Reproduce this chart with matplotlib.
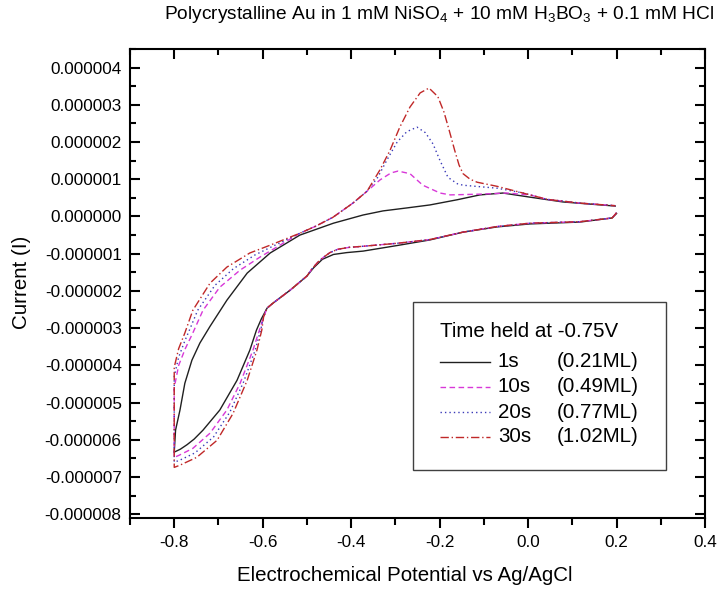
import numpy as np
import matplotlib.pyplot as plt
from matplotlib.ticker import MultipleLocator, FuncFormatter
from matplotlib.patches import Rectangle
from matplotlib.lines import Line2D

plt.rcParams['font.family'] = ['Liberation Sans', 'DejaVu Sans']
plt.rcParams['mathtext.fontset'] = 'custom'
plt.rcParams['mathtext.rm'] = 'Liberation Sans'

# potentials in V, currents in microamps (converted to A below)
# 1s hold
x_1s_cath = [0.200, 0.190, 0.117, 0.004, -0.070, -0.147, -0.222, -0.296, -0.373, -0.410, -0.440, -0.465,
             -0.485, -0.500, -0.538, -0.577, -0.590, -0.603, -0.614, -0.629, -0.658, -0.697, -0.735,
             -0.755, -0.771, -0.786, -0.800]
i_1s_cath = [0.08, -0.04, -0.15, -0.20, -0.28, -0.42, -0.63, -0.78, -0.93, -0.97, -1.02, -1.15,
             -1.38, -1.60, -1.98, -2.33, -2.46, -2.75, -3.05, -3.59, -4.40, -5.20, -5.74,
             -5.98, -6.13, -6.25, -6.33]
x_1s_anod = [-0.800, -0.797, -0.787, -0.776, -0.760, -0.742, -0.719, -0.681, -0.635, -0.583, -0.516, -0.440,
             -0.373, -0.328, -0.274, -0.222, -0.160, -0.109, -0.057, 0.004, 0.079, 0.197]
i_1s_anod = [-6.33, -5.74, -5.20, -4.48, -3.86, -3.40, -2.95, -2.25, -1.52, -0.98, -0.50, -0.18,
             0.04, 0.15, 0.23, 0.31, 0.45, 0.58, 0.63, 0.52, 0.39, 0.28]

# segments shared by the 10s / 20s / 30s sweeps
x_cath_common = [0.200, 0.190, 0.117, 0.004, -0.070, -0.147, -0.222, -0.296, -0.373, -0.405, -0.430,
                 -0.448, -0.463, -0.477, -0.490, -0.500, -0.538, -0.577, -0.590]
i_cath_common = [0.10, -0.04, -0.14, -0.18, -0.27, -0.42, -0.62, -0.72, -0.80, -0.83, -0.88,
                 -0.97, -1.10, -1.25, -1.43, -1.60, -1.98, -2.33, -2.46]
x_anod_mid = [-0.480, -0.441, -0.396, -0.364]
i_anod_mid = [-0.26, -0.02, 0.36, 0.68]
x_anod_tail = [0.043, 0.117, 0.197]
i_anod_tail = [0.46, 0.36, 0.29]

# 10s hold
x_10s_cath = [-0.598, -0.606, -0.622, -0.651, -0.681, -0.719, -0.758, -0.790, -0.800]
i_10s_cath = [-2.70, -3.00, -3.59, -4.48, -5.20, -5.82, -6.23, -6.42, -6.47]
x_10s_anod = [-0.800, -0.800, -0.790, -0.775, -0.758, -0.735, -0.697, -0.651, -0.606, -0.561, -0.516]
i_10s_anod = [-6.47, -4.60, -4.00, -3.55, -3.13, -2.52, -1.90, -1.44, -1.09, -0.77, -0.45]
x_10s_peak = [-0.335, -0.310, -0.294, -0.267, -0.238, -0.199, -0.176, -0.109, -0.048, 0.004]
i_10s_peak = [0.98, 1.17, 1.22, 1.15, 0.84, 0.63, 0.58, 0.60, 0.63, 0.58]

# 20s hold
x_20s_cath = [-0.598, -0.604, -0.617, -0.643, -0.674, -0.711, -0.753, -0.788, -0.800]
i_20s_cath = [-2.70, -3.02, -3.59, -4.44, -5.25, -5.92, -6.35, -6.55, -6.60]
x_20s_anod = [-0.800, -0.800, -0.790, -0.776, -0.762, -0.747, -0.708, -0.666, -0.617, -0.572, -0.516]
i_20s_anod = [-6.60, -4.30, -3.78, -3.34, -2.95, -2.52, -1.85, -1.40, -1.03, -0.77, -0.45]
x_20s_peak = [-0.340, -0.319, -0.296, -0.274, -0.251, -0.232, -0.215, -0.199, -0.181, -0.160, -0.147,
              -0.070, -0.011]
i_20s_peak = [1.05, 1.52, 2.00, 2.28, 2.40, 2.25, 1.95, 1.50, 1.05, 0.88, 0.84, 0.76, 0.63]

# 30s hold
x_30s_cath = [-0.598, -0.602, -0.613, -0.635, -0.667, -0.703, -0.749, -0.787, -0.800]
i_30s_cath = [-2.70, -3.05, -3.59, -4.40, -5.29, -6.01, -6.47, -6.68, -6.74]
x_30s_anod = [-0.800, -0.800, -0.790, -0.776, -0.758, -0.719, -0.681, -0.629, -0.583, -0.516]
i_30s_anod = [-6.74, -4.05, -3.55, -3.13, -2.52, -1.79, -1.36, -0.98, -0.77, -0.45]
x_30s_peak = [-0.335, -0.312, -0.290, -0.267, -0.244, -0.224, -0.204, -0.190, -0.178, -0.166, -0.156,
              -0.147, -0.131, -0.115, -0.070, -0.018]
i_30s_peak = [1.25, 1.78, 2.40, 2.94, 3.32, 3.45, 3.22, 2.80, 2.30, 1.78, 1.38, 1.15, 1.00, 0.92, 0.81, 0.65]

hold_times = ['1s', '10s', '20s', '30s']
coverages = ['(0.21ML)', '(0.49ML)', '(0.77ML)', '(1.02ML)']


def sweep(*parts):
    xs = np.concatenate([p[0] for p in parts])
    ys = np.concatenate([p[1] for p in parts]) * 1e-6
    return xs, ys


curves = [
    sweep((x_1s_cath, i_1s_cath), (x_1s_anod, i_1s_anod)),
    sweep((x_cath_common, i_cath_common), (x_10s_cath, i_10s_cath), (x_10s_anod, i_10s_anod),
          (x_anod_mid, i_anod_mid), (x_10s_peak, i_10s_peak), (x_anod_tail, i_anod_tail)),
    sweep((x_cath_common, i_cath_common), (x_20s_cath, i_20s_cath), (x_20s_anod, i_20s_anod),
          (x_anod_mid, i_anod_mid), (x_20s_peak, i_20s_peak), (x_anod_tail, i_anod_tail)),
    sweep((x_cath_common, i_cath_common), (x_30s_cath, i_30s_cath), (x_30s_anod, i_30s_anod),
          (x_anod_mid, i_anod_mid), (x_30s_peak, i_30s_peak), (x_anod_tail, i_anod_tail)),
]
colors = ['#202020', '#d838d8', '#3a3ab8', '#c02828']
dashes = [None, (4, 2.5), (1, 2.2), (6, 2, 1, 2)]

fig = plt.figure(figsize=(7.23, 5.90), dpi=100)
ax = fig.add_axes([0.1798, 0.122, 0.7953, 0.795])

handles = []
for (xs, ys), c, d in zip(curves, colors, dashes):
    line, = ax.plot(xs, ys, color=c, lw=1.0, solid_joinstyle='round')
    if d is not None:
        line.set_dashes(d)
    handles.append(line)

ax.set_xlim(-0.9, 0.4)
ax.set_ylim(-8.1e-6, 4.5e-6)
ax.xaxis.set_major_locator(MultipleLocator(0.2))
ax.xaxis.set_minor_locator(MultipleLocator(0.1))
ax.yaxis.set_major_locator(MultipleLocator(1e-6))
ax.yaxis.set_minor_locator(MultipleLocator(0.5e-6))
ax.xaxis.set_major_formatter(FuncFormatter(lambda v, p: f'{round(v, 3) + 0.0:.1f}'))
ax.yaxis.set_major_formatter(FuncFormatter(lambda v, p: f'{round(v, 9) + 0.0:.6f}'))

for s in ax.spines.values():
    s.set_linewidth(1.5)
ax.tick_params(axis='y', which='both', direction='in', right=True, labelsize=12.3, width=1.5, pad=6)
ax.tick_params(axis='x', which='both', direction='out', labelsize=12.3, width=1.5, pad=5)
ax.tick_params(axis='y', which='major', length=7)
ax.tick_params(axis='y', which='minor', length=4)
ax.tick_params(axis='x', which='major', length=7)
ax.tick_params(axis='x', which='minor', length=5)

# top axis ticks point inward
top = ax.twiny()
top.set_xlim(ax.get_xlim())
top.xaxis.set_major_locator(MultipleLocator(0.2))
top.xaxis.set_minor_locator(MultipleLocator(0.1))
top.tick_params(axis='x', which='both', direction='in', labeltop=False, width=1.5)
top.tick_params(axis='x', which='major', length=7)
top.tick_params(axis='x', which='minor', length=4)
for s in top.spines.values():
    s.set_visible(False)

fig.text(0.608, 0.976, r'Polycrystalline Au in 1 mM NiSO$_4$ + 10 mM H$_3$BO$_3$ + 0.1 mM HCl',
         ha='center', va='center', fontsize=13.8)
fig.text(0.560, 0.024, 'Electrochemical Potential vs Ag/AgCl', ha='center', va='center', fontsize=14.8)
fig.text(0.030, 0.522, 'Current (I)', ha='center', va='center', rotation=90, fontsize=14.8)

# legend box
ax.add_patch(Rectangle((0.492, 0.1023), 0.440, 0.3583, transform=ax.transAxes,
                       facecolor='white', edgecolor='#404040', lw=1.0, zorder=5))
ax.text(0.539, 0.397, 'Time held at -0.75V', transform=ax.transAxes, ha='left', va='center',
        fontsize=14.8, zorder=6)
row_y = [0.333, 0.280, 0.226, 0.173]
for h, d, t, cov, yy in zip(handles, dashes, hold_times, coverages, row_y):
    sample = Line2D([0.539, 0.626], [yy, yy], transform=ax.transAxes, color=h.get_color(), lw=1.0, zorder=6)
    if d is not None:
        sample.set_dashes(d)
    ax.add_line(sample)
    ax.text(0.640, yy, t, transform=ax.transAxes, ha='left', va='center', fontsize=14.8, zorder=6)
    ax.text(0.743, yy, cov, transform=ax.transAxes, ha='left', va='center', fontsize=14.8, zorder=6)

fig.savefig('out.png', dpi=100)
